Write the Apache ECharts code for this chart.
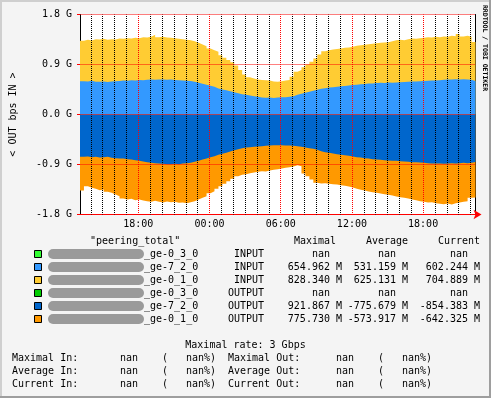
<!DOCTYPE html>
<html><head><meta charset="utf-8">
<script src="https://cdn.jsdelivr.net/npm/echarts@6/dist/echarts.min.js"></script>
<style>html,body{margin:0;padding:0;background:#f4f4f4}#c{width:491px;height:398px}</style>
</head><body><div id="c"></div>
<script>
// time axis: hours since day-1 00:00, one sample per 20 minutes
const startHour = 13 + 5/60;
const endHour = 46 + 25/60;
const stepHours = 20/60;

// INPUT ge-7_2_0 (M bps)
const inBlue = [
600,594,606,590,588,596,584,592,600,604,
610,606,618,614,622,618,626,630,624,628,
632,626,630,622,618,612,606,604,590,572,
552,534,516,498,470,450,436,420,402,384,
366,354,342,330,318,306,300,304,298,306,
310,312,318,330,354,372,390,408,428,444,
462,474,486,492,500,510,512,520,530,536,
544,548,556,560,566,570,568,574,570,576,
580,584,588,592,596,600,604,606,612,610,
618,626,630,628,634,630,636,632,624,602,602];
// INPUT ge-0_1_0 (M bps), stacked on ge-7_2_0
const inYellow = [
726,750,726,766,762,766,760,764,750,764,
752,768,750,766,752,774,760,768,810,764,
766,760,750,752,744,744,738,734,730,718,
708,696,672,660,658,618,584,560,538,496,
434,366,328,320,312,314,318,306,298,282,
290,300,302,350,416,428,460,492,522,566,
618,666,672,678,680,680,688,686,690,700,
704,706,710,712,718,720,728,728,750,762,
764,754,768,776,766,774,776,786,774,788,
774,778,768,788,776,820,768,784,774,704,704];
// OUTPUT ge-7_2_0 (M bps)
const outDarkBlue = [
-762,-756,-768,-762,-774,-768,-762,-780,-786,-792,
-792,-804,-810,-822,-834,-846,-858,-870,-876,-882,
-888,-894,-894,-888,-894,-882,-876,-870,-852,-834,
-810,-792,-768,-750,-726,-708,-690,-666,-642,-624,
-606,-594,-588,-582,-576,-570,-564,-558,-552,-552,
-552,-558,-558,-564,-570,-582,-594,-606,-618,-636,
-660,-678,-690,-702,-714,-726,-732,-744,-756,-768,
-774,-786,-792,-804,-810,-816,-822,-828,-834,-834,
-840,-846,-852,-858,-858,-864,-870,-876,-882,-882,
-882,-888,-882,-876,-882,-876,-870,-876,-870,-854,-854];
// OUTPUT ge-0_1_0 (M bps), stacked on ge-7_2_0
const outOrange = [
-606,-534,-552,-576,-588,-582,-630,-630,-654,-678,
-720,-726,-708,-720,-696,-702,-702,-702,-678,-690,
-696,-672,-684,-684,-696,-702,-720,-708,-708,-696,
-690,-678,-648,-630,-612,-582,-558,-534,-516,-486,
-480,-480,-468,-462,-456,-450,-462,-450,-444,-432,
-420,-402,-390,-372,-342,-348,-468,-504,-552,-594,
-582,-558,-558,-552,-546,-546,-552,-552,-558,-570,
-582,-582,-594,-594,-600,-606,-612,-618,-624,-642,
-648,-654,-660,-672,-684,-696,-702,-708,-696,-714,
-726,-726,-720,-744,-714,-708,-702,-684,-630,-642,-642];

const hourLines = [14,15,16,17,19,20,21,22,23,25,26,27,28,29,31,32,33,34,35,37,38,39,40,41,43,44,45,46];
const majorHours = [18,24,30,36,42];
const yGridValues = [1800,900,0,-900];

const legendTitle = '"peering_total"';
const legendHeaders = ['Maximal','Average','Current'];
const legendNames = ['_ge-0_3_0','_ge-7_2_0','_ge-0_1_0','_ge-0_3_0','_ge-7_2_0','_ge-0_1_0'];
const legendDirs = ['INPUT','INPUT','INPUT','OUTPUT','OUTPUT','OUTPUT'];
const legendColors = ['#33FF33','#3399FF','#FFCC33','#00CC00','#0066CC','#FF9900'];
const maxVals = ['nan','654.962 M','828.340 M','nan','921.867 M','775.730 M'];
const avgVals = ['nan','531.159 M','625.131 M','nan','-775.679 M','-573.917 M'];
const curVals = ['nan','602.244 M','704.889 M','nan','-854.383 M','-642.325 M'];
const rateLine = 'Maximal rate: 3 Gbps';
const summaryIn = ['Maximal In:','Average In:','Current In:'];
const summaryOut = ['Maximal Out:','Average Out:','Current Out:'];
const summaryVal = 'nan';
const summaryPct = 'nan%)';

const FF = '"DejaVu Sans Mono", monospace';
const FONT = '10px ' + FF;

function pairs(vals){ return vals.map((v,i)=>[startHour + i*stepHours, v]); }
// stacking (RRD STACK): upper series drawn from the running total
function stacked(base, top){ return base.map((v,i)=>v + top[i]); }

const g = [];
function rect(x,y,w,h,fill,extra){ const o={type:'rect',silent:true,shape:{x:x,y:y,width:w,height:h},style:{fill:fill}}; if(extra){Object.assign(o.shape,extra.shape||{});Object.assign(o.style,extra.style||{});} g.push(o); }
function txt(s,x,y,align,font,rot){ const o={type:'text',silent:true,x:x,y:y,style:{text:s,font:font||FONT,fill:'#000',align:align||'left',textAlign:align||'left',verticalAlign:'middle',textVerticalAlign:'middle'}}; if(rot) o.rotation=rot; g.push(o); }

// frame shading
rect(0,0,491,2,'#CFCFCF'); rect(0,0,2,398,'#CFCFCF');
rect(0,396,491,2,'#9E9E9E'); rect(489,0,2,398,'#9E9E9E');

// side credit
txt('RRDTOOL / TOBI OETIKER',485,48,'center','bold 6.5px '+FF,-Math.PI/2);

// legend
const col0 = 144, cw = 6;
txt(legendTitle,90,241);
legendHeaders.forEach((h,k)=>txt(h,col0+(25+12*k)*cw,241));
legendNames.forEach((n,i)=>{
  const y = 254 + 13*i;
  rect(34.5,y-3.5,7,7,legendColors[i],{style:{stroke:'#000',lineWidth:1}});
  rect(48,y-5,96,10,'#9a9a9a',{shape:{r:5}});
  txt(n,col0,y);
  txt(legendDirs[i],col0+20*cw,y,'right');
  [maxVals,avgVals,curVals].forEach((arr,k)=>{
    const right = col0 + (32+12*k)*cw + (k===0?6:0);
    const v = arr[i];
    if(v==='nan') txt(v,right-2*cw,y,'right'); else txt(v,right,y,'right');
  });
});
txt(rateLine,245.5,345,'center');
summaryIn.forEach((s,i)=>{
  const y = 358.5 + 13*i;
  txt(s,12,y); txt(summaryVal,120,y); txt('(',162,y); txt(summaryPct,186,y);
  txt(summaryOut[i],228,y); txt(summaryVal,336,y); txt('(',378,y); txt(summaryPct,402,y);
});

const gridMarks = [];
hourLines.forEach(h=>gridMarks.push({xAxis:h,lineStyle:{color:'#000',type:[1,1],dashOffset:0.5,width:1}}));
majorHours.forEach(h=>gridMarks.push({xAxis:h,lineStyle:{color:'#FF0000',type:[1,1],dashOffset:0.5,width:1}}));
yGridValues.forEach(v=>gridMarks.push({yAxis:v,lineStyle:{color:'#FF0000',type:[1,1],dashOffset:0.5,width:1}}));

function areaSeries(name,vals,color,z){
  return {name:name,type:'line',data:pairs(vals),step:'end',symbol:'none',
    lineStyle:{width:0},itemStyle:{color:color},areaStyle:{color:color,opacity:1},silent:true,z:z};
}

const chart = echarts.init(document.getElementById('c'),null,{renderer:'canvas'});
chart.setOption({
  animation:false,
  backgroundColor:'#F4F4F4',
  textStyle:{fontFamily:FF},
  grid:{left:75.5,top:14.5,width:400,height:200,show:true,backgroundColor:'#FFFFFF',borderWidth:0},
  xAxis:{type:'value',min:startHour,max:endHour,
    axisLine:{show:true,onZero:false,lineStyle:{color:'#FF0000',width:1},symbol:['none','arrow'],symbolSize:[7,8],symbolOffset:[0,6]},
    axisTick:{show:false},splitLine:{show:false},
    axisLabel:{customValues:majorHours,margin:5,color:'#000',fontFamily:FF,fontSize:10,
      formatter:v=>String(Math.round(v)%24).padStart(2,'0')+':00'}},
  yAxis:[{type:'value',min:-1800,max:1800,interval:900,position:'left',
    axisLine:{show:true,onZero:false,lineStyle:{color:'#000'}},
    axisTick:{show:true,length:3,lineStyle:{color:'#FF0000'}},
    splitLine:{show:false},
    axisLabel:{margin:8,color:'#000',fontFamily:FF,fontSize:10,formatter:v=>(v/1000).toFixed(1)+' G'},
    name:'< OUT bps IN >',nameLocation:'middle',nameRotate:90,nameGap:62,
    nameTextStyle:{color:'#000',fontFamily:FF,fontSize:10}},
   {type:'value',min:-1800,max:1800,position:'right',
    axisLine:{show:true,onZero:false,lineStyle:{color:'#000'}},axisTick:{show:false},axisLabel:{show:false},splitLine:{show:false}}],
  series:[
    areaSeries('INPUT ge-0_1_0',stacked(inBlue,inYellow),'#FFCC33',2),
    areaSeries('INPUT ge-7_2_0',inBlue,'#3399FF',3),
    areaSeries('OUTPUT ge-0_1_0',stacked(outDarkBlue,outOrange),'#FF9900',2),
    areaSeries('OUTPUT ge-7_2_0',outDarkBlue,'#0066CC',3),
    {name:'grid',type:'line',data:[[startHour,0]],symbol:'none',lineStyle:{width:0},silent:true,z:5,
      markLine:{silent:true,symbol:['none','none'],label:{show:false},animation:false,data:gridMarks}}
  ],
  graphic:{elements:g}
});
</script></body></html>
